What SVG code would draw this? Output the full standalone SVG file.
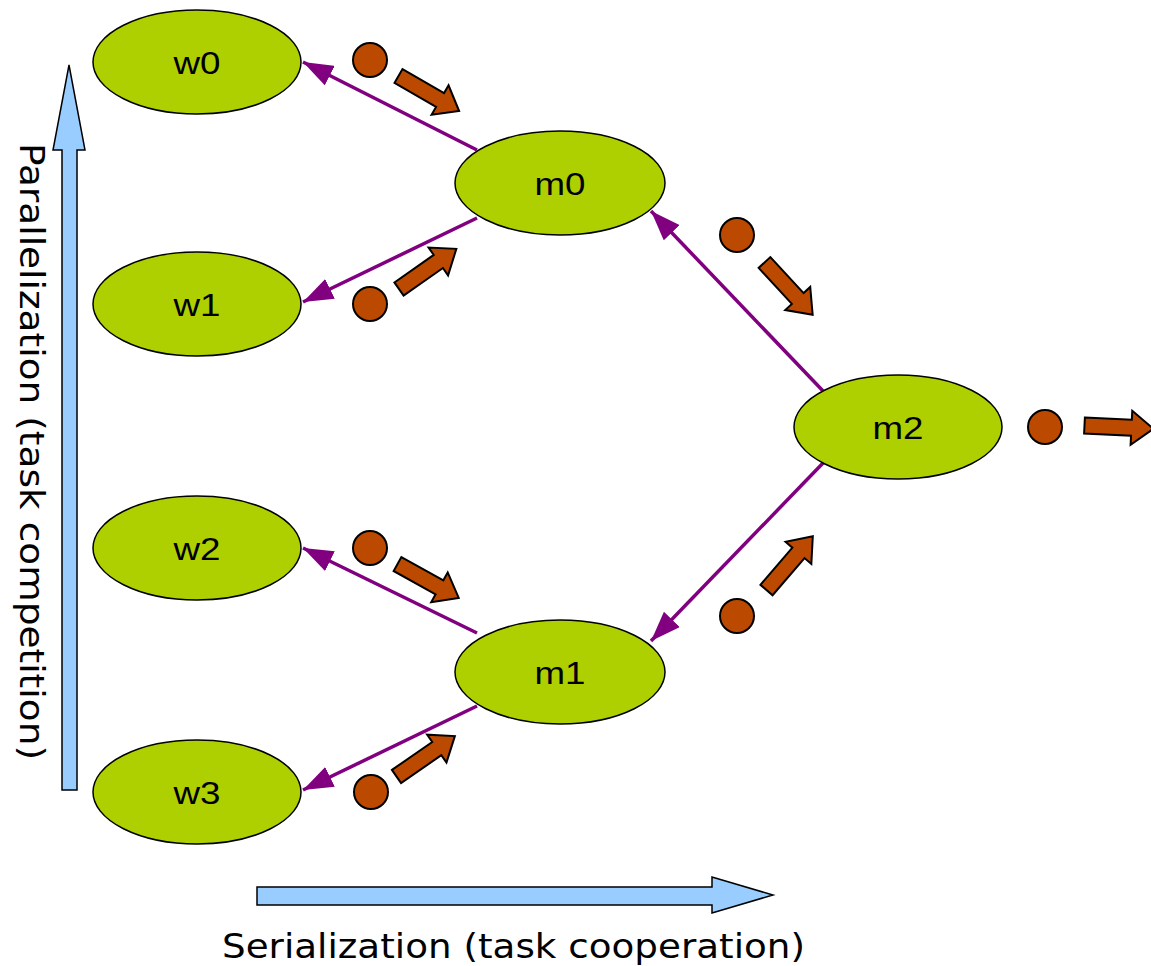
<svg xmlns="http://www.w3.org/2000/svg" width="1151" height="966" viewBox="0 0 1151 966">
<defs>
<style>
.node ellipse{fill:#afd000;stroke:#000;stroke-width:1.5}
.node text{font-family:"Liberation Sans",Arial,sans-serif;font-size:31px;fill:#000;text-anchor:middle}
.edge{stroke:#800080;stroke-width:3.5;fill:none;marker-end:url(#ah)}
.tok{fill:#bb4a00;stroke:#000;stroke-width:2}
.blk{fill:#bb4a00;stroke:#000;stroke-width:2;stroke-linejoin:miter}
.axis{fill:#99ccff;stroke:#000;stroke-width:1.5}
.lbl{font-family:"DejaVu Sans",Verdana,sans-serif;font-size:34px;fill:#000}
</style>
<marker id="ah" markerUnits="userSpaceOnUse" viewBox="0 -11 30 22" refX="30" refY="0" markerWidth="30" markerHeight="22" orient="auto">
<path d="M0,-11 L30,0 L0,11 Z" fill="#800080"/>
</marker>
</defs>
<rect width="1151" height="966" fill="#fff"/>

<g id="axes">
<polygon class="axis" points="62,790 77,790 77,150 85,150 69,65 53,150 62,150"/>
<polygon class="axis" points="257,887 712,887 712,877 773,895 712,913 712,905 257,905"/>
<text class="lbl" transform="translate(20,143) rotate(90)" textLength="617" lengthAdjust="spacingAndGlyphs">Parallelization (task competition)</text>
<text class="lbl" x="222" y="958" textLength="583" lengthAdjust="spacingAndGlyphs">Serialization (task cooperation)</text>
</g>

<g id="connectors">
<line class="edge" x1="477" y1="150" x2="303" y2="62"/>
<line class="edge" x1="477" y1="218" x2="303" y2="302"/>
<line class="edge" x1="824" y1="392" x2="651" y2="211"/>
<line class="edge" x1="824" y1="462" x2="651" y2="641"/>
<line class="edge" x1="477" y1="633" x2="303" y2="548"/>
<line class="edge" x1="477" y1="706" x2="303" y2="790"/>
</g>

<g id="tokens">
<circle class="tok" cx="370" cy="60" r="17"/>
<circle class="tok" cx="370" cy="304" r="17"/>
<circle class="tok" cx="737" cy="235" r="17"/>
<circle class="tok" cx="1045" cy="427" r="17"/>
<circle class="tok" cx="370" cy="548" r="17"/>
<circle class="tok" cx="737" cy="616" r="17"/>
<circle class="tok" cx="371" cy="792" r="17"/>
<path class="blk" transform="translate(398.5,76) rotate(30)" d="M0,-8 L48,-8 L48,-17 L70,0 L48,17 L48,8 L0,8 Z"/>
<path class="blk" transform="translate(399,289) rotate(-35)" d="M0,-8 L48,-8 L48,-17 L70,0 L48,17 L48,8 L0,8 Z"/>
<path class="blk" transform="translate(764.5,262.5) rotate(47.3)" d="M0,-8 L49,-8 L49,-17 L71,0 L49,17 L49,8 L0,8 Z"/>
<path class="blk" transform="translate(1084.5,425.5) rotate(2.8)" d="M0,-8 L47,-8 L47,-17 L69,0 L47,17 L47,8 L0,8 Z"/>
<path class="blk" transform="translate(397.5,564) rotate(29)" d="M0,-8 L48,-8 L48,-17 L70,0 L48,17 L48,8 L0,8 Z"/>
<path class="blk" transform="translate(396.5,776.5) rotate(-34.7)" d="M0,-8 L49,-8 L49,-17 L71,0 L49,17 L49,8 L0,8 Z"/>
<path class="blk" transform="translate(766.5,590) rotate(-49.3)" d="M0,-8 L49,-8 L49,-17 L71,0 L49,17 L49,8 L0,8 Z"/>
</g>

<g id="w0" class="node"><ellipse cx="197" cy="62" rx="104" ry="52"/><text x="197" y="74" textLength="47" lengthAdjust="spacingAndGlyphs">w0</text></g>
<g id="w1" class="node"><ellipse cx="197" cy="304" rx="104" ry="52"/><text x="197" y="316" textLength="47" lengthAdjust="spacingAndGlyphs">w1</text></g>
<g id="w2" class="node"><ellipse cx="197" cy="548" rx="104" ry="52"/><text x="197" y="560" textLength="47" lengthAdjust="spacingAndGlyphs">w2</text></g>
<g id="w3" class="node"><ellipse cx="197" cy="792" rx="104" ry="52"/><text x="197" y="804" textLength="47" lengthAdjust="spacingAndGlyphs">w3</text></g>
<g id="m0" class="node"><ellipse cx="560" cy="183" rx="105" ry="52"/><text x="560" y="195" textLength="51" lengthAdjust="spacingAndGlyphs">m0</text></g>
<g id="m1" class="node"><ellipse cx="560" cy="672" rx="105" ry="52"/><text x="560" y="684" textLength="51" lengthAdjust="spacingAndGlyphs">m1</text></g>
<g id="m2" class="node"><ellipse cx="898" cy="427" rx="104" ry="52"/><text x="898" y="439" textLength="51" lengthAdjust="spacingAndGlyphs">m2</text></g>
</svg>
